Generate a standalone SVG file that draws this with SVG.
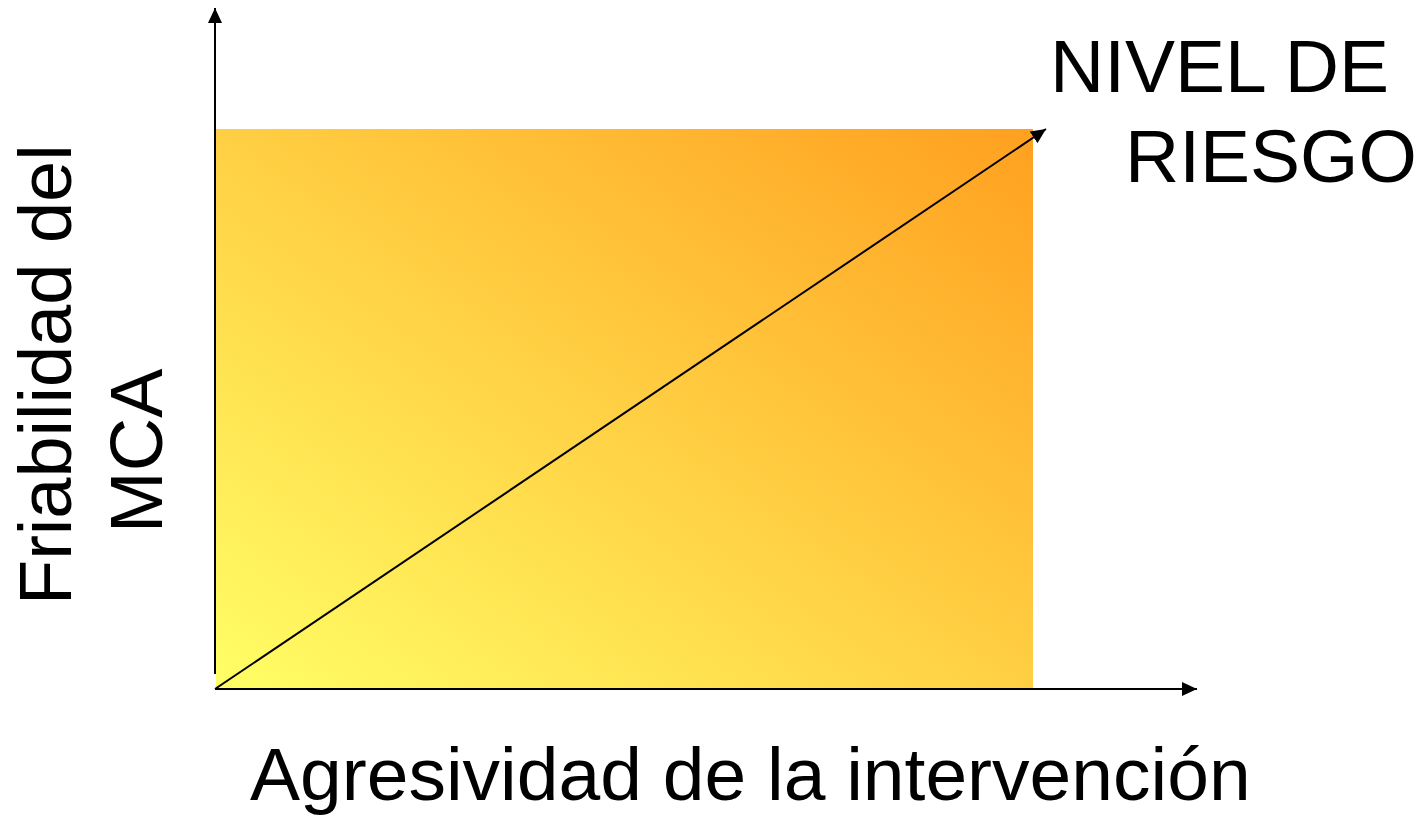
<svg xmlns="http://www.w3.org/2000/svg" width="1418" height="821" viewBox="0 0 1418 821">
<defs>
<linearGradient id="g" x1="0" y1="1" x2="1" y2="0">
<stop offset="0" stop-color="#FFFF66"/>
<stop offset="1" stop-color="#FFA020"/>
</linearGradient>
<marker id="ah" viewBox="0 0 15 14" refX="15" refY="7" markerWidth="15" markerHeight="14" markerUnits="userSpaceOnUse" orient="auto">
<path d="M0,0 L15,7 L0,14 z" fill="#000"/>
</marker>
<style>
.t{font-family:"Liberation Sans",Arial,sans-serif;font-size:75px;fill:#000}
.v{font-size:74px}
.ln{stroke:#000;stroke-width:2;fill:none}
</style>
</defs>
<rect id="area" x="216" y="129" width="817" height="560" fill="url(#g)"/>
<g id="connectors">
<line class="ln" x1="215" y1="674" x2="215" y2="8" marker-end="url(#ah)"/>
<line class="ln" x1="215" y1="689" x2="1197" y2="689" marker-end="url(#ah)"/>
<line class="ln" x1="215" y1="689" x2="1046" y2="129" marker-end="url(#ah)"/>
</g>
<g id="label-risk">
<text class="t" x="1050" y="92">NIVEL DE</text>
<text class="t" x="1125" y="182">RIESGO</text>
</g>
<g id="label-x">
<text class="t" x="250" y="800">Agresividad de la intervención</text>
</g>
<g id="label-y">
<text class="t v" transform="translate(71,605) rotate(-90)">Friabilidad del</text>
<text class="t v" transform="translate(162,533) rotate(-90)">MCA</text>
</g>
</svg>
